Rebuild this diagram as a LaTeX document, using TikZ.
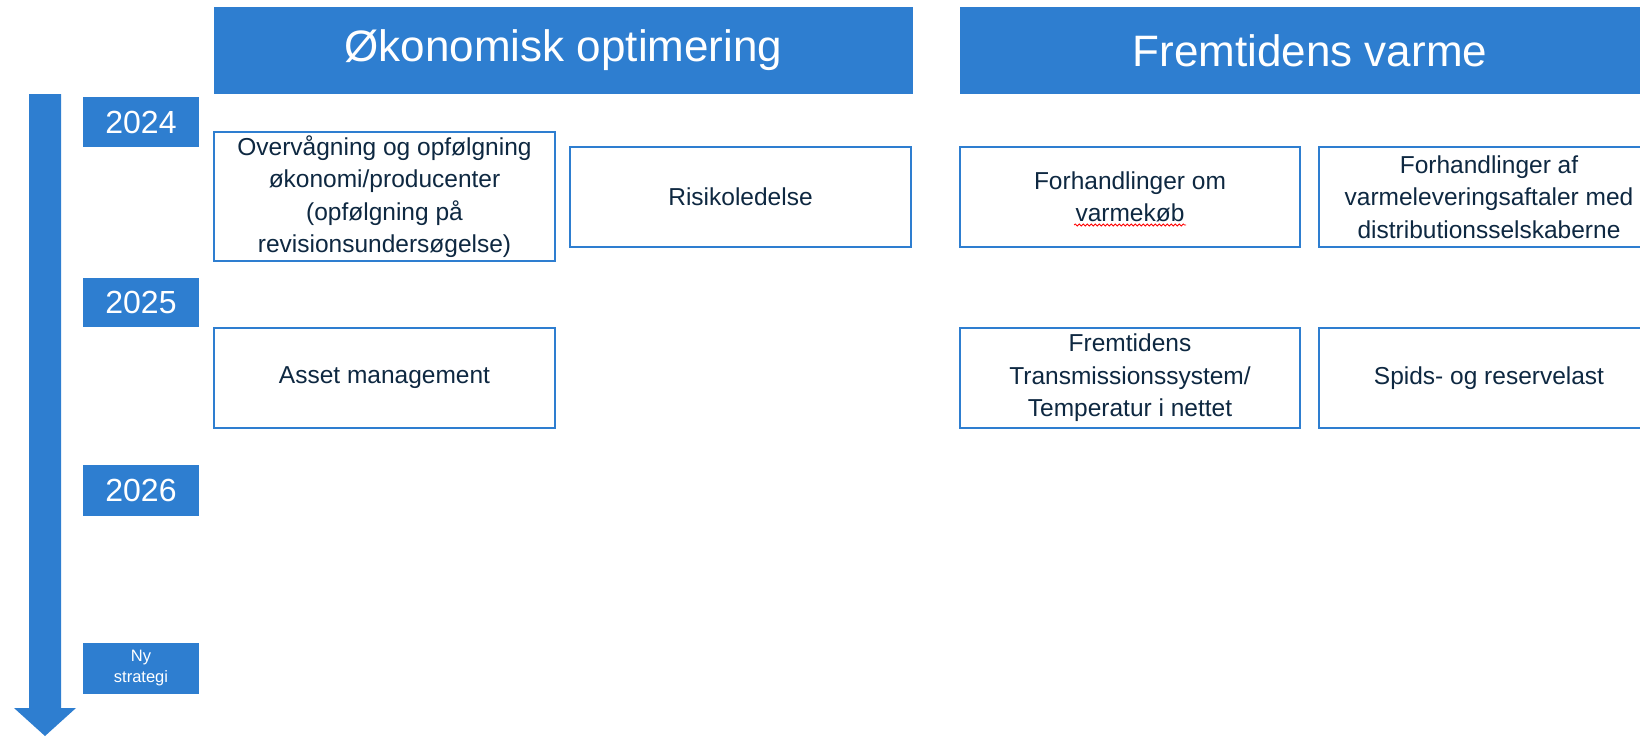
\documentclass[tikz,border=0pt]{standalone}
\usepackage{fontspec}
\setmainfont{Liberation Sans}
\usetikzlibrary{calc,decorations.pathmorphing}
\definecolor{hblue}{RGB}{46,126,208}
\definecolor{navy}{RGB}{14,40,65}
\tikzset{
  header/.style={fill=hblue, draw=none, text=white, inner sep=0pt,
    font=\fontsize{44}{50}\selectfont, minimum height=87pt},
  yearbox/.style={fill=hblue, draw=none, text=white, inner sep=0pt,
    minimum width=116pt, font=\fontsize{32}{36}\selectfont},
  taskbox/.style={draw=hblue, line width=2pt, fill=white, text=navy, inner sep=0pt,
    align=center, minimum width=341pt, minimum height=100pt,
    font=\fontsize{24.5}{32.5}\selectfont},
}
\begin{document}
\begin{tikzpicture}[x=1pt,y=-1pt]
\useasboundingbox (0,0) rectangle (1640,736);
\clip (0,0) rectangle (1640,736);
% timeline arrow
\fill[hblue] (29,94) -- (61,94) -- (61,708) -- (76,708) -- (45,736) -- (14,708) -- (29,708) -- cycle;
% headers
\node[header, minimum width=699pt] (h1) at (563.5,50.5) {Økonomisk optimering};
\node[header, minimum width=700pt] (h2) at (1310,50.5) {Fremtidens varme};
% years
\node[yearbox, minimum height=50pt] (y24) at (141,122) {2024};
\node[yearbox, minimum height=49pt] (y25) at (141,302.5) {2025};
\node[yearbox, minimum height=51pt] (y26) at (141,490.5) {2026};
\node[yearbox, minimum height=51pt, align=center, font=\fontsize{16.5}{21}\selectfont] (yny) at (141,668.5) {Ny\\strategi};
% tasks
\node[taskbox, minimum height=129pt] (b1) at (384.5,196.5) {Overvågning og opfølgning\\økonomi/producenter\\(opfølgning på\\revisionsundersøgelse)};
\node[taskbox] (b2) at (740.5,197) {Risikoledelse};
\node[taskbox, minimum width=340pt] (b3) at (1130,197) {Forhandlinger om\\varmekøb};
\node[taskbox, minimum width=340pt] (b4) at (1489,197) {Forhandlinger af\\varmeleveringsaftaler med\\distributionsselskaberne};
\node[taskbox] (b5) at (384.5,377.5) {Asset management};
\node[taskbox, minimum width=340pt] (b6) at (1130,378) {Fremtidens\\Transmissionssystem/\\Temperatur i nettet};
\node[taskbox, minimum width=340pt] (b7) at (1489,378) {Spids- og reservelast};
% spell-check underline
\draw[red, line width=0.8pt, decorate, decoration={snake, amplitude=1pt, segment length=4pt}]
  ($(b3.center)+(-56,28)$) -- ($(b3.center)+(56,28)$);
\end{tikzpicture}
\end{document}
